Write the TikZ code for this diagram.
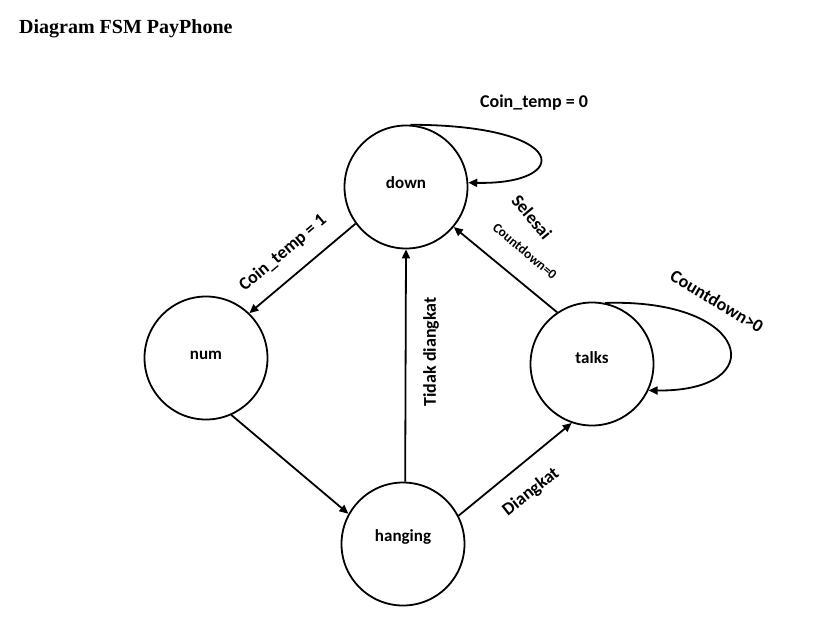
\documentclass[tikz,border=0pt]{standalone}
\usepackage{fontspec}
\setmainfont{Liberation Serif}
\newfontfamily\labfont{Carlito}
\usetikzlibrary{arrows.meta}
\begin{document}
\begin{tikzpicture}[x=1pt,y=-1pt,
  state/.style={circle,draw,line width=1.8pt,minimum size=123pt,inner sep=0pt},
  edge/.style={line width=1.8pt,-{Triangle[length=9pt,width=8pt]}},
  lab/.style={font=\labfont\bfseries\fontsize{18}{20}\selectfont,inner sep=0pt},
  statelab/.style={font=\labfont\bfseries\fontsize{17}{20}\selectfont,inner sep=0pt},
  smalllab/.style={font=\labfont\bfseries\fontsize{13.5}{15}\selectfont,inner sep=0pt}]
\useasboundingbox (0,0) rectangle (818,643);
\node[anchor=west,font=\bfseries\fontsize{20}{24}\selectfont,inner sep=0pt] (title) at (19,29) {Diagram FSM PayPhone};

\node[state] (down) at (406,187) {};
\node[state] (num) at (206,358) {};
\node[state] (talks) at (592,364) {};
\node[state] (hanging) at (403,544) {};
\node[statelab] (tdown) at (406,183) {down};
\node[statelab] (tnum) at (206,355) {num};
\node[statelab] (ttalks) at (592,358) {talks};
\node[statelab] (thanging) at (403,537) {hanging};

\draw[edge] (down.86) .. controls (572,125) and (572,185) .. (down.4);
\draw[edge] (talks.78) .. controls (752,298) and (772,392) .. (talks.-25);
\draw[edge] (down.216.7) -- (num.46);
\draw[edge] (talks.124) -- (down.-40.6);
\draw[edge] (num.-66.6) -- (hanging.151.5);
\draw[edge] (hanging.88) -- (down.-90);
\draw[edge] (hanging.27.8) -- (talks.-109.7);

\node[lab] (l1) at (534,103) {Coin\_temp = 0};
\node[lab,rotate=-50] (l2) at (532,217) {Selesai};
\node[smalllab,rotate=-40] (l3) at (525,251) {Countdown=0};
\node[lab,rotate=40] (l4) at (283,253) {Coin\_temp = 1};
\node[lab,rotate=90] (l5) at (431,352) {Tidak diangkat};
\node[lab,rotate=-31] (l6) at (717,301) {Countdown>0};
\node[lab,rotate=38] (l7) at (531,492) {Diangkat};
\end{tikzpicture}
\end{document}
